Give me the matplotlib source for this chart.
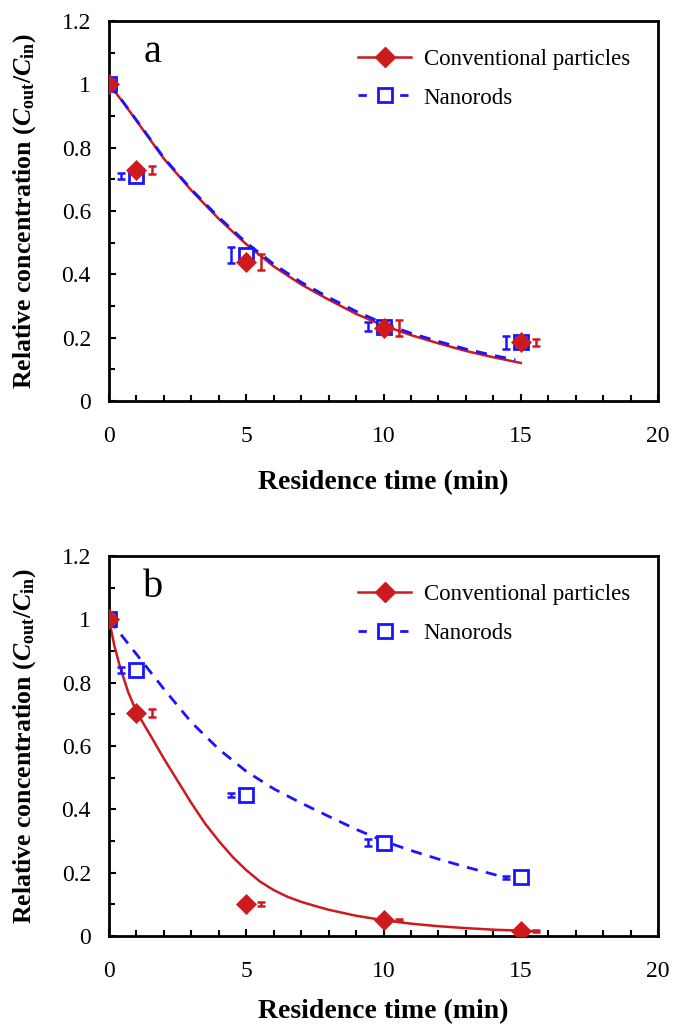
import matplotlib
matplotlib.use("Agg")
import matplotlib.pyplot as plt
from matplotlib.lines import Line2D
from matplotlib.ticker import MultipleLocator

plt.rcParams['font.family'] = ['Liberation Serif', 'DejaVu Serif']
plt.rcParams['mathtext.fontset'] = 'custom'
plt.rcParams['mathtext.rm'] = 'Liberation Serif'
plt.rcParams['mathtext.it'] = 'Liberation Serif:italic'
plt.rcParams['mathtext.bf'] = 'Liberation Serif:bold'
plt.rcParams['mathtext.bfit'] = 'Liberation Serif:bold:italic'

RED = '#CC1A1E'
BLUE = '#1A14FF'

# ---------------- data ----------------
time_pts = [0, 1, 5, 10, 15]

# panel a
a_conv = [1.0, 0.73, 0.44, 0.23, 0.185]
a_conv_err = [0.0, 0.012, 0.025, 0.025, 0.012]
a_nano = [1.0, 0.71, 0.46, 0.235, 0.185]
a_nano_err = [0.0, 0.01, 0.025, 0.015, 0.02]

a_fit_t = [0, 0.5, 1, 2, 3, 4, 5, 6, 7, 8, 9, 10, 11, 12, 13, 14, 15]
a_fit_conv = [1.0, 0.945, 0.885, 0.765, 0.665, 0.575, 0.495, 0.425, 0.368,
              0.32, 0.275, 0.238, 0.208, 0.182, 0.158, 0.138, 0.12]
a_fit_nano_t = [0, 0.5, 1, 2, 3, 4, 5, 6, 7, 8, 9, 10, 11, 12, 13, 14, 14.8]
a_fit_nano = [1.0, 0.946, 0.887, 0.768, 0.668, 0.58, 0.5, 0.432, 0.375,
              0.327, 0.283, 0.245, 0.214, 0.188, 0.164, 0.144, 0.13]

# panel b
b_conv = [1.0, 0.705, 0.10, 0.05, 0.015]
b_conv_err = [0.0, 0.012, 0.006, 0.004, 0.003]
b_nano = [1.0, 0.84, 0.445, 0.295, 0.185]
b_nano_err = [0.0, 0.01, 0.006, 0.01, 0.004]

b_fit_conv_t = [0, 0.2, 0.4, 0.7, 1, 1.5, 2, 2.5, 3, 3.5, 4, 4.5, 5, 5.5, 6,
                6.5, 7, 7.5, 8, 9, 10, 11, 12, 13, 14, 15, 15.6]
b_fit_conv = [1.0, 0.915, 0.85, 0.77, 0.708, 0.635, 0.56, 0.49, 0.42, 0.355,
              0.30, 0.25, 0.208, 0.172, 0.145, 0.124, 0.108, 0.095, 0.083,
              0.064, 0.05, 0.039, 0.031, 0.025, 0.02, 0.017, 0.015]
b_fit_nano_t = [0, 0.5, 1, 2, 3, 4, 5, 6, 7, 8, 9, 10, 11, 12, 13, 14, 14.5]
b_fit_nano = [1.0, 0.945, 0.89, 0.78, 0.675, 0.59, 0.52, 0.465, 0.42,
              0.378, 0.337, 0.30, 0.27, 0.243, 0.218, 0.195, 0.183]

err_offset = 0.55
y_ticks = [0, 0.2, 0.4, 0.6, 0.8, 1.0, 1.2]
y_ticklabels = ['0', '0.2', '0.4', '0.6', '0.8', '1', '1.2']
x_ticks = [0, 5, 10, 15, 20]
x_ticklabels = ['0', '5', '10', '15', '20']

labels = ['Conventional particles', 'Nanorods']
panel_letters = ['a', 'b']
xlabel_offsets = [-0.183, -0.165]

fig = plt.figure(figsize=(6.75, 10.25), dpi=100)
ax_a = fig.add_axes([0.1615, 0.6088, 0.8135, 0.3707])
ax_b = fig.add_axes([0.1615, 0.0868, 0.8135, 0.3707])

panels = [
    (ax_a, a_conv, a_conv_err, a_nano, a_nano_err, a_fit_t, a_fit_conv, a_fit_nano_t, a_fit_nano),
    (ax_b, b_conv, b_conv_err, b_nano, b_nano_err, b_fit_conv_t, b_fit_conv, b_fit_nano_t, b_fit_nano),
]

for i, (ax, conv, conv_err, nano, nano_err, fct, fc, fnt, fn) in enumerate(panels):
    ax.plot(fct, fc, color=RED, lw=1.8, zorder=2)
    ax.plot(fnt, fn, color=BLUE, lw=2.0, dashes=(4, 3), zorder=3)
    ax.plot(time_pts, nano, ls='none', marker='s', ms=10.5, mfc='white',
            mec=BLUE, mew=2.0, zorder=4)
    ax.plot(time_pts, conv, ls='none', marker='D', ms=10, mfc=RED,
            mec=RED, mew=0.5, zorder=5)
    ax.errorbar([t + err_offset for t in time_pts[1:]], conv[1:], yerr=conv_err[1:],
                fmt='none', ecolor=RED, elinewidth=1.8, capsize=3, capthick=1.8, zorder=5)
    ax.errorbar([t - err_offset for t in time_pts[1:]], nano[1:], yerr=nano_err[1:],
                fmt='none', ecolor=BLUE, elinewidth=1.8, capsize=3, capthick=1.8, zorder=5)

    ax.set_xlim(0, 20)
    ax.set_ylim(0, 1.2)
    ax.set_xticks(x_ticks)
    ax.set_xticklabels(x_ticklabels, fontsize=17)
    ax.set_yticks(y_ticks)
    ax.set_yticklabels(y_ticklabels, fontsize=17)
    ax.xaxis.set_minor_locator(MultipleLocator(1))
    ax.yaxis.set_minor_locator(MultipleLocator(0.1))
    ax.tick_params(which='both', direction='in', top=False, right=False,
                   width=1.5, color='black')
    ax.tick_params(which='major', length=5)
    ax.tick_params(which='minor', length=4)
    ax.tick_params(axis='x', which='major', pad=18)
    ax.tick_params(axis='y', which='major', pad=13)
    for s in ax.spines.values():
        s.set_linewidth(2.0)

    ax.set_xlabel('Residence time (min)', fontsize=20, fontweight='bold')
    ax.xaxis.set_label_coords(0.5, xlabel_offsets[i])
    ax.set_ylabel(r'Relative concentration ($\mathbfit{C}_{\mathbf{out}}$/$\mathbfit{C}_{\mathbf{in}}$)',
                  fontsize=18.5, fontweight='bold')
    ax.yaxis.set_label_coords(-0.13, 0.5)
    ax.text(1.25, 1.10, panel_letters[i], fontsize=29, va='center', ha='left')

    handles = [
        Line2D([], [], color=RED, lw=1.8, marker='D', ms=10, mfc=RED, mec=RED),
        Line2D([], [], color=BLUE, lw=2.0, dashes=(3, 4.5), marker='s', ms=10.5,
               mfc='white', mec=BLUE, mew=2.0),
    ]
    ax.legend(handles, labels, loc='upper right', bbox_to_anchor=(0.986, 0.98),
              frameon=False, fontsize=16.5, handlelength=2.3, handletextpad=0.55,
              labelspacing=0.75)

fig.savefig('out.png', dpi=100)
